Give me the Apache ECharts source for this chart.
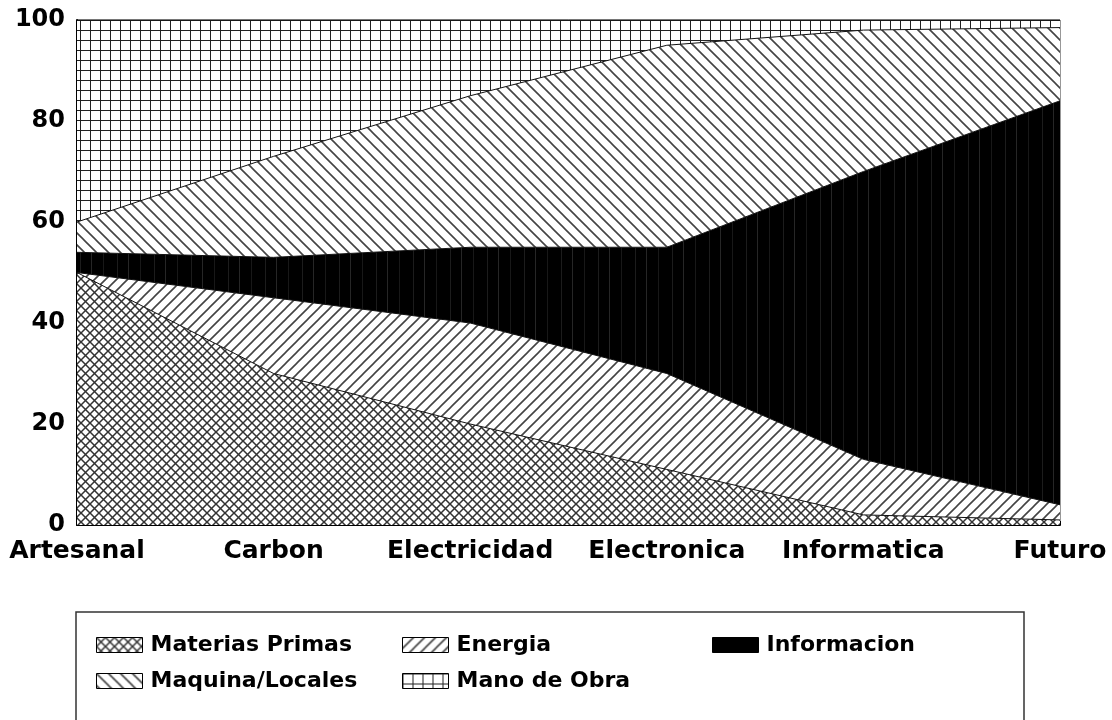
<!DOCTYPE html>
<html>
<head>
<meta charset="utf-8">
<style>
  html, body { margin: 0; padding: 0; background: #fff; }
  #chart { width: 1112px; height: 720px; }
</style>
<script src="https://cdn.jsdelivr.net/npm/echarts@6/dist/echarts.min.js"></script>
</head>
<body>
<div id="chart"></div>
<script>
// Stacked area chart of cost shares per era, drawn with hatch patterns.

const categories = ['Artesanal', 'Carbon', 'Electricidad', 'Electronica', 'Informatica', 'Futuro'];
const materiasPrimas = [50, 30, 20, 11, 2, 1];
const energia = [0, 15, 20, 19, 11, 3];
const informacion = [4, 8, 15, 25, 57, 80];
const maquinaLocales = [6, 20, 30, 40, 28, 14.5];
const manoDeObra = [40, 27, 15, 5, 2, 1.5];
const yTicks = [0, 20, 40, 60, 80, 100];

const FONT = '"DejaVu Sans", sans-serif';

function tile(w, h, draw) {
  const c = document.createElement('canvas');
  c.width = w; c.height = h;
  const ctx = c.getContext('2d');
  ctx.fillStyle = '#fff';
  ctx.fillRect(0, 0, w, h);
  draw(ctx, w, h);
  return { image: c, repeat: 'repeat' };
}

function diag(ctx, s, dir) {
  // dir 1 = "/", -1 = "\"
  const segs = dir > 0
    ? [[-1, 1, 1, -1], [0, s, s, 0], [s - 1, s + 1, s + 1, s - 1]]
    : [[-1, s - 1, 1, s + 1], [0, 0, s, s], [s - 1, -1, s + 1, 1]];
  ctx.beginPath();
  for (const [a, b, c, d] of segs) { ctx.moveTo(a, b); ctx.lineTo(c, d); }
  ctx.stroke();
}

const patCross = tile(9, 9, (ctx, s) => {
  ctx.strokeStyle = '#333'; ctx.lineWidth = 1.5;
  diag(ctx, s, 1); diag(ctx, s, -1);
});
const patSlash = tile(11, 11, (ctx, s) => {
  ctx.strokeStyle = '#444'; ctx.lineWidth = 1.6;
  diag(ctx, s, 1);
});
const patBack = tile(12, 12, (ctx, s) => {
  ctx.strokeStyle = '#444'; ctx.lineWidth = 1.6;
  diag(ctx, s, -1);
});
const patGrid = tile(10, 10, (ctx, w, h) => {
  ctx.strokeStyle = '#222'; ctx.lineWidth = 1;
  ctx.beginPath();
  ctx.moveTo(0.5, 0); ctx.lineTo(0.5, h);
  ctx.moveTo(0, 0.5); ctx.lineTo(w, 0.5);
  ctx.stroke();
});
const patBlack = tile(37, 4, (ctx, w, h) => {
  ctx.fillStyle = '#000'; ctx.fillRect(0, 0, w, h);
  ctx.fillStyle = '#1c1c1c'; ctx.fillRect(6, 0, 1, h);
  ctx.fillStyle = '#262626'; ctx.fillRect(17, 0, 1, h);
  ctx.fillStyle = '#181818'; ctx.fillRect(29, 0, 1, h);
});

const seriesDefs = [
  { name: 'Materias Primas', data: materiasPrimas, pat: patCross },
  { name: 'Energia', data: energia, pat: patSlash },
  { name: 'Informacion', data: informacion, pat: patBlack },
  { name: 'Maquina/Locales', data: maquinaLocales, pat: patBack },
  { name: 'Mano de Obra', data: manoDeObra, pat: patGrid },
];
const legendFill = {
  'Materias Primas': patCross,
  'Energia': patSlash,
  'Informacion': '#000',
  'Maquina/Locales': patBack,
  'Mano de Obra': patGrid,
};

function legendAt(name, left, top) {
  return {
    data: [{ name: name, icon: 'rect', itemStyle: { color: legendFill[name], borderColor: '#000', borderWidth: 1 } }],
    left: left, top: top, padding: 0,
    itemWidth: 46, itemHeight: 15,
    selectedMode: false,
    textStyle: { fontFamily: FONT, fontWeight: 'bold', fontSize: 22, color: '#000', padding: [0, 0, 0, 3] },
  };
}

const chart = echarts.init(document.getElementById('chart'));
chart.setOption({
  animation: false,
  backgroundColor: '#fff',
  grid: { left: 77, right: 52, top: 20, bottom: 195, show: true, borderColor: '#333', borderWidth: 1 },
  legend: [
    legendAt('Materias Primas', 96, 634),
    legendAt('Energia', 402, 634),
    legendAt('Informacion', 712, 634),
    legendAt('Maquina/Locales', 96, 670),
    legendAt('Mano de Obra', 402, 670),
  ],
  graphic: [{
    type: 'rect', z: -1,
    shape: { x: 76, y: 612, width: 948, height: 130 },
    style: { fill: 'none', stroke: '#333', lineWidth: 1.5 },
  }],
  xAxis: {
    type: 'category', data: categories, boundaryGap: false,
    axisLine: { lineStyle: { color: '#000', width: 2 } },
    axisTick: { show: true, inside: true, length: 4, interval: 0, lineStyle: { color: '#000' } },
    axisLabel: { interval: 0, margin: 14, fontFamily: FONT, fontWeight: 'bold', fontSize: 25, color: '#000' },
  },
  yAxis: {
    type: 'value', min: yTicks[0], max: yTicks[yTicks.length - 1], interval: 20,
    axisLine: { show: true, lineStyle: { color: '#000', width: 2 } },
    axisTick: { show: true, inside: true, length: 6, lineStyle: { color: '#000' } },
    splitLine: { show: false },
    axisLabel: { margin: 12, fontFamily: FONT, fontWeight: 'bold', fontSize: 24, color: '#000' },
  },
  series: seriesDefs.map((s) => ({
    name: s.name, type: 'line', stack: 'total', data: s.data,
    showSymbol: false, symbol: 'none',
    lineStyle: { color: '#111', width: 1 },
    itemStyle: { color: s.pat },
    areaStyle: { color: s.pat, opacity: 1 },
  })),
});
</script>
</body>
</html>
